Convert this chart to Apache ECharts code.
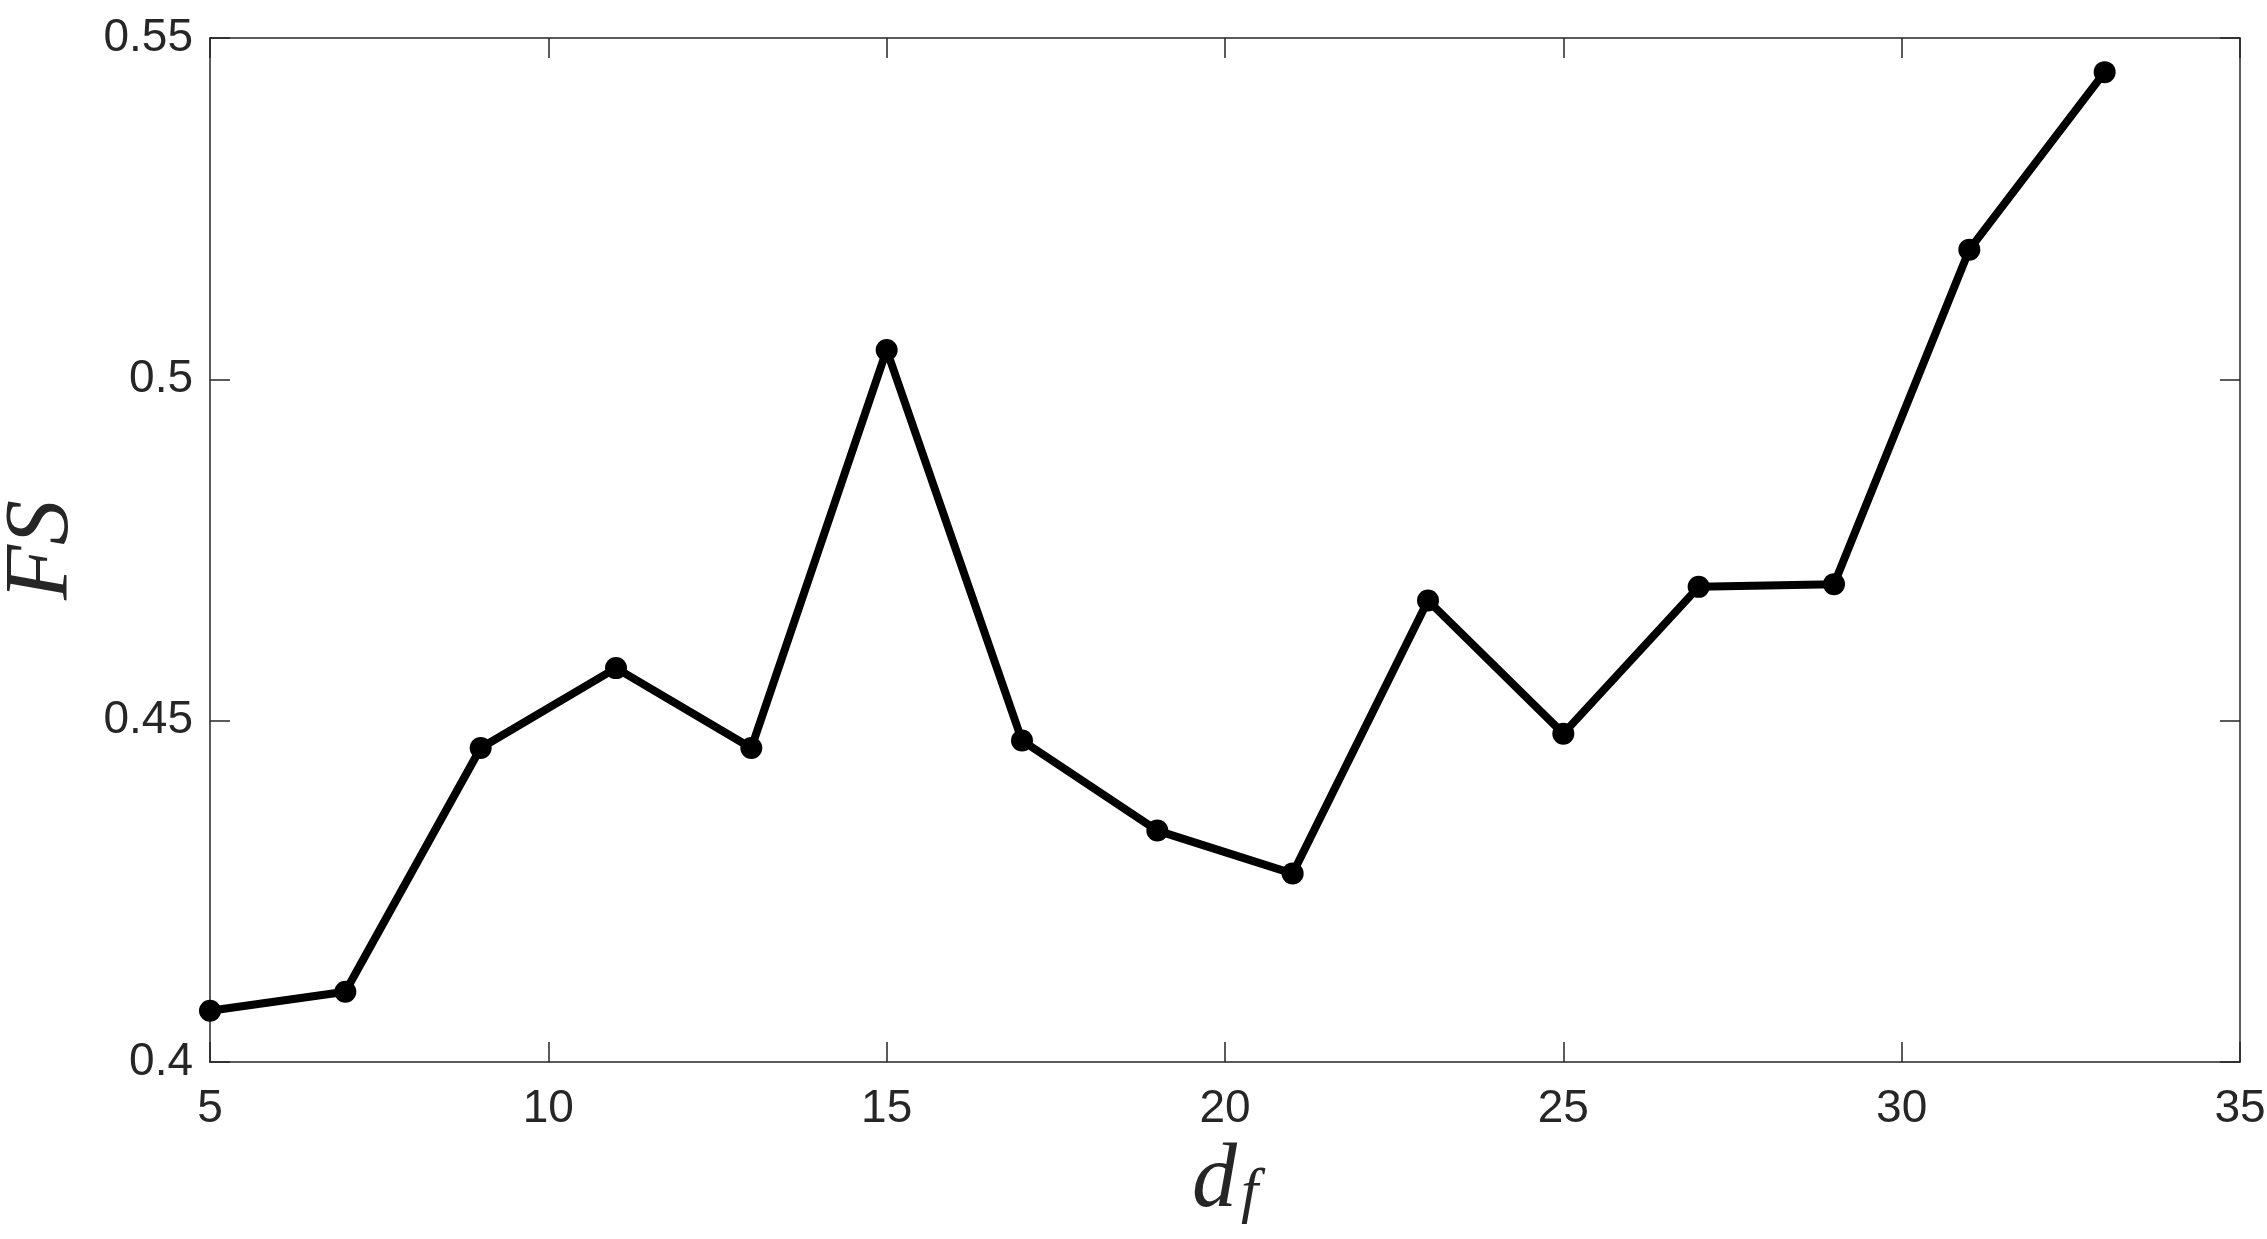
<!DOCTYPE html>
<html>
<head>
<meta charset="utf-8">
<script src="https://cdn.jsdelivr.net/npm/echarts@6/dist/echarts.min.js"></script>
<style>
  html, body { margin: 0; padding: 0; background: #fff; }
  #chart { width: 2267px; height: 1239px; }
</style>
</head>
<body>
<div id="chart"></div>
<script>
// d_f values and FS values
const dfValues = [5, 7, 9, 11, 13, 15, 17, 19, 21, 23, 25, 27, 29, 31, 33]
const fsValues = [0.4075, 0.4103, 0.4460, 0.4577, 0.4460, 0.5043, 0.4471, 0.4339,
  0.4276, 0.4676, 0.4481, 0.4696, 0.4700, 0.5190, 0.5450]

const xTicks = { min: 5, max: 35, interval: 5 }
const yTicks = { min: 0.4, max: 0.55, interval: 0.05 }

const axisColor = '#262626'
const tickFont = 'Liberation Sans'
const mathFont = 'Liberation Serif'

const chart = echarts.init(document.getElementById('chart'))

const axisLine = { show: true, lineStyle: { color: axisColor, width: 1.5 } }
const axisTick = { show: true, inside: true, length: 20, lineStyle: { color: axisColor, width: 1.5 } }
const labelStyle = { color: axisColor, fontFamily: tickFont, fontSize: 46 }

const option = {
  backgroundColor: '#fff',
  animation: false,
  grid: {
    left: 210, right: 27, top: 38, bottom: 177,
    containLabel: false,
    outerBoundsMode: 'none'
  },
  xAxis: [
    {
      type: 'value',
      min: xTicks.min, max: xTicks.max, interval: xTicks.interval,
      position: 'bottom',
      axisLine, axisTick,
      splitLine: { show: false },
      axisLabel: { ...labelStyle, margin: 24 },
      name: '{d|d}{f|f}',
      nameLocation: 'middle',
      nameGap: 66,
      nameTextStyle: {
        rich: {
          d: { fontFamily: mathFont, fontStyle: 'italic', fontSize: 90, color: axisColor },
          f: { fontFamily: mathFont, fontStyle: 'italic', fontSize: 62, color: axisColor, padding: [26, 0, 0, 4] }
        }
      }
    },
    {
      type: 'value',
      min: xTicks.min, max: xTicks.max, interval: xTicks.interval,
      position: 'top',
      axisLine, axisTick,
      splitLine: { show: false },
      axisLabel: { show: false }
    }
  ],
  yAxis: [
    {
      type: 'value',
      min: yTicks.min, max: yTicks.max, interval: yTicks.interval,
      position: 'left',
      axisLine, axisTick,
      splitLine: { show: false },
      axisLabel: {
        ...labelStyle,
        margin: 17,
        formatter: v => String(Math.round(v * 100) / 100)
      },
      name: 'FS',
      nameLocation: 'middle',
      nameRotate: 90,
      nameGap: 122,
      nameTextStyle: {
        fontFamily: mathFont, fontStyle: 'italic', fontSize: 90, color: axisColor
      }
    },
    {
      type: 'value',
      min: yTicks.min, max: yTicks.max, interval: yTicks.interval,
      position: 'right',
      axisLine, axisTick,
      splitLine: { show: false },
      axisLabel: { show: false }
    }
  ],
  series: [
    {
      type: 'line',
      data: dfValues.map((x, i) => [x, fsValues[i]]),
      xAxisIndex: 0,
      yAxisIndex: 0,
      symbol: 'circle',
      symbolSize: 22,
      lineStyle: { color: '#000', width: 8 },
      itemStyle: { color: '#000' },
      clip: false
    }
  ]
}

chart.setOption(option)
</script>
</body>
</html>
